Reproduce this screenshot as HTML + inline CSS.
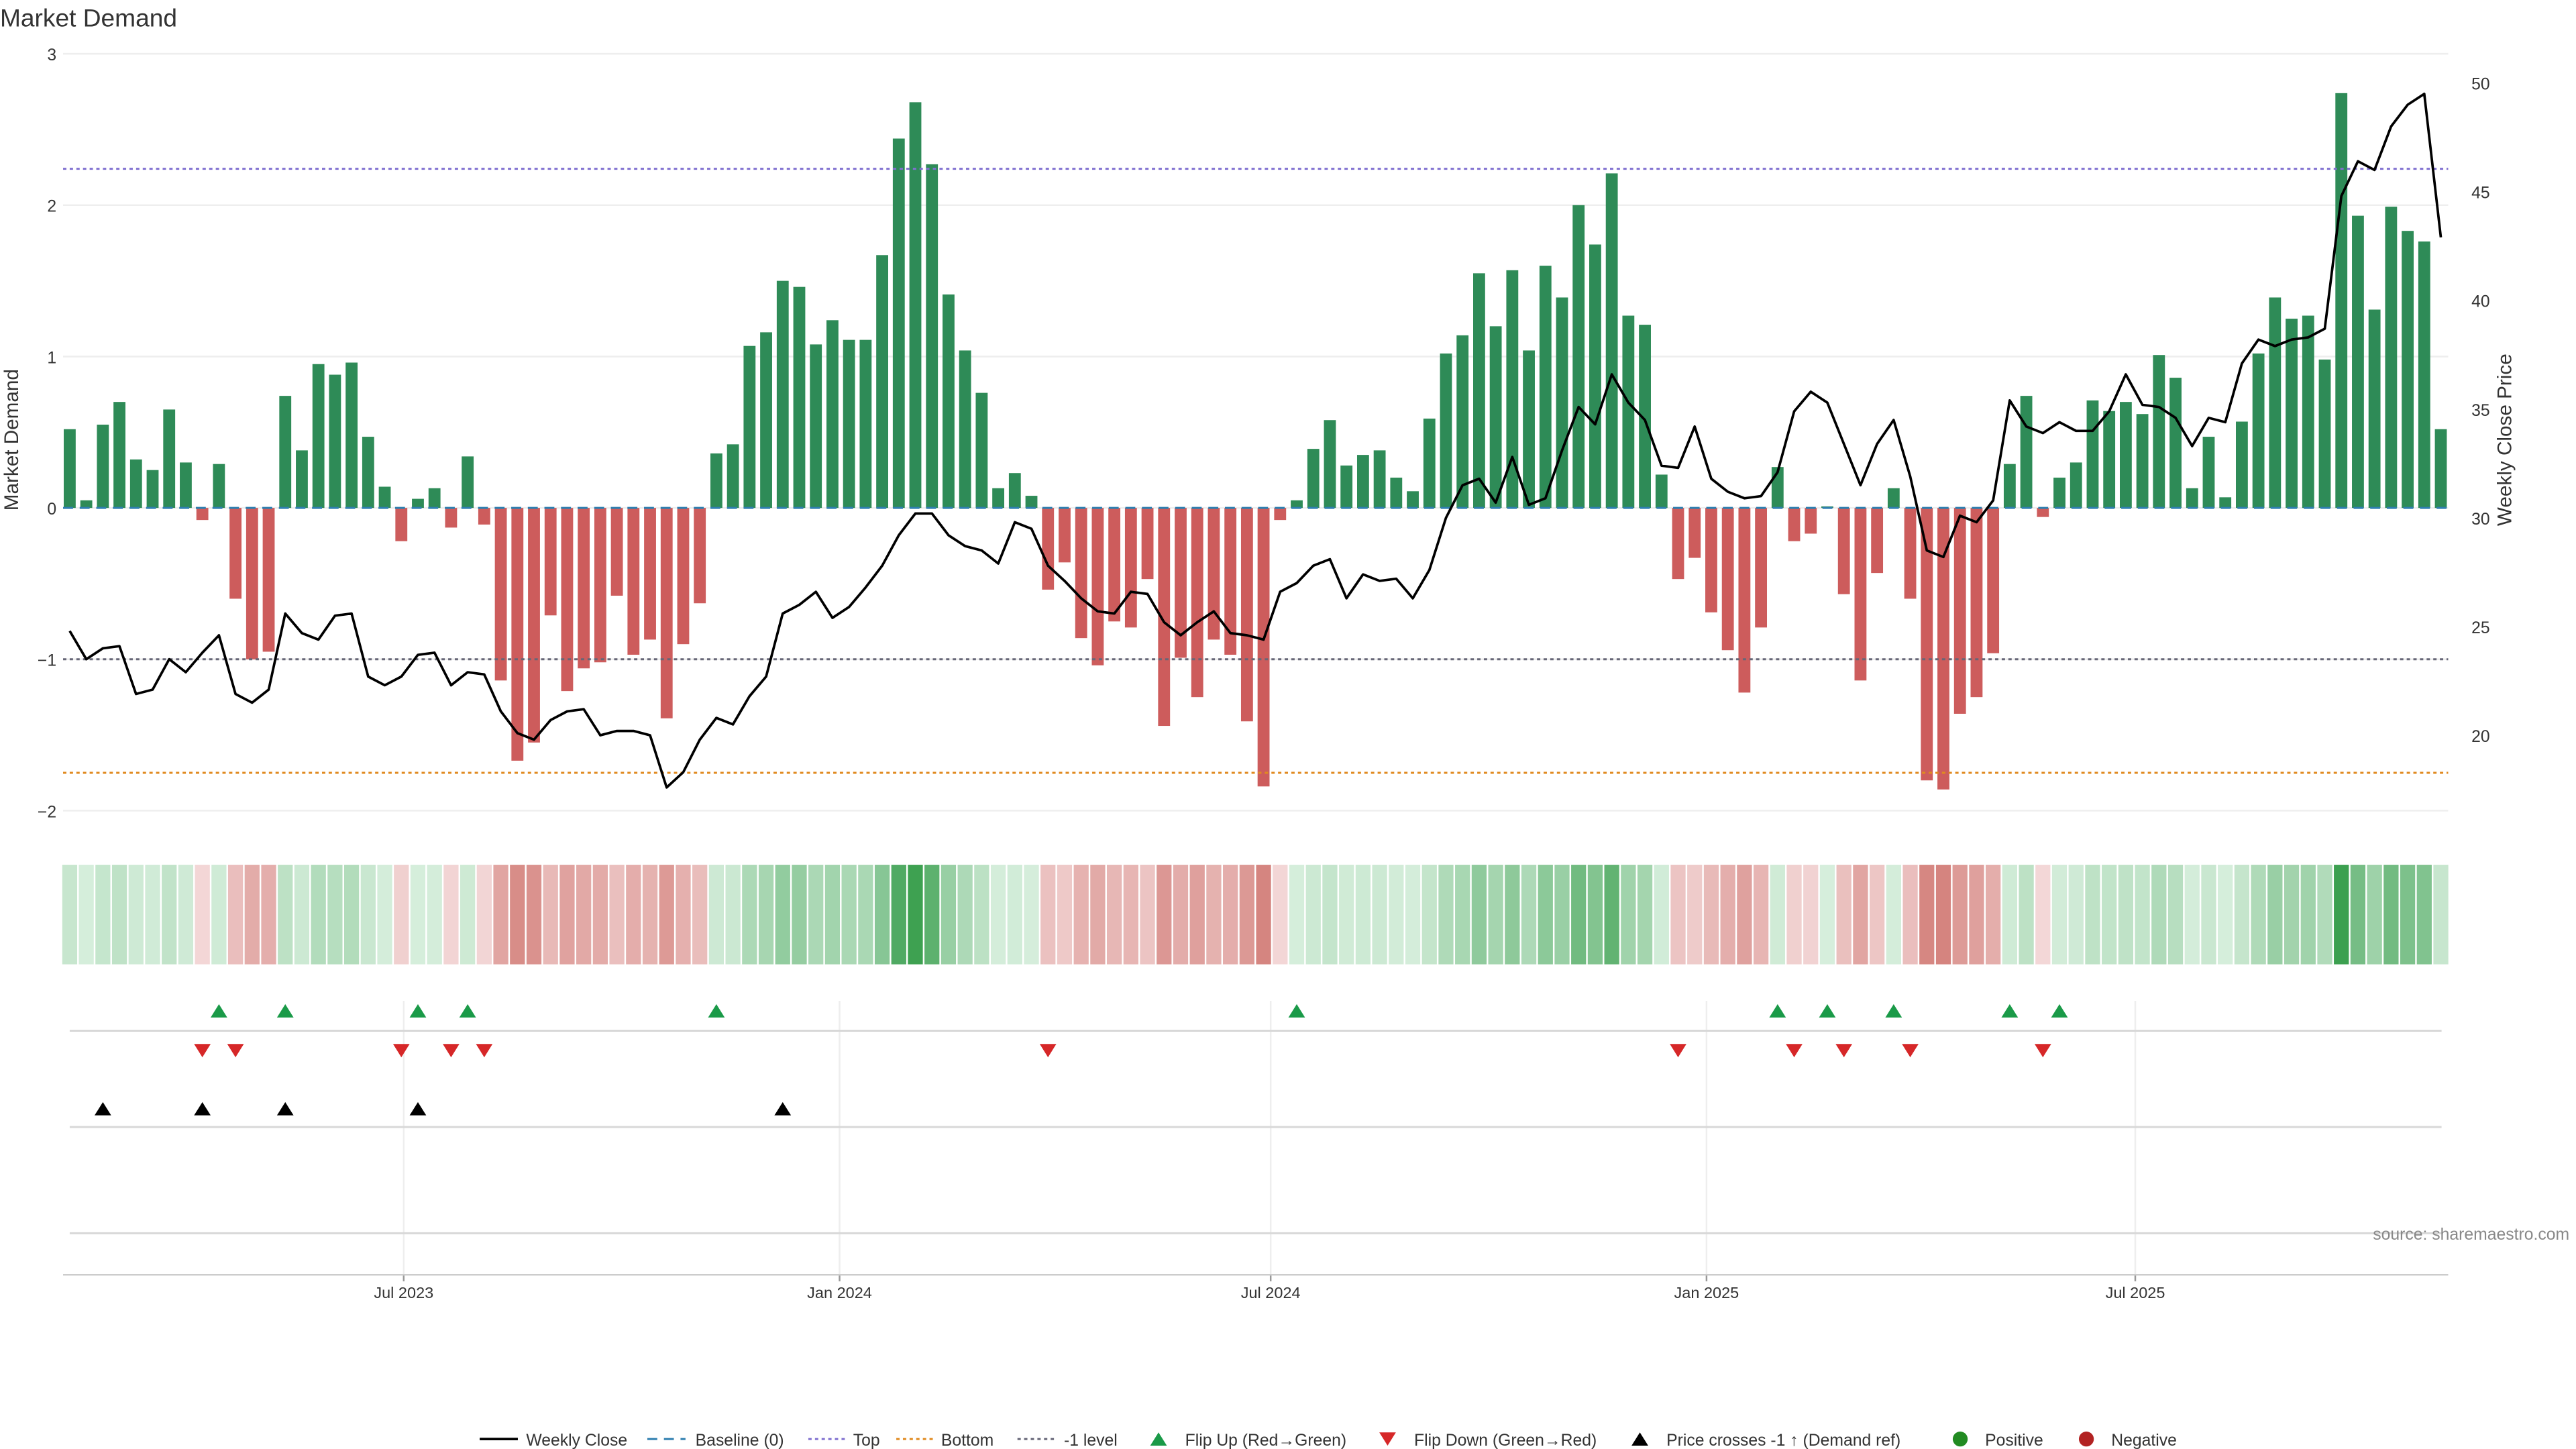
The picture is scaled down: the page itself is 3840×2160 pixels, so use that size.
<!DOCTYPE html>
<html><head><meta charset="utf-8"><style>
html,body{margin:0;padding:0;background:#fff;}
svg{display:block;font-family:"Liberation Sans","DejaVu Sans",sans-serif;}
</style></head><body>
<svg id="chart" width="3840" height="2160" viewBox="0 0 1552 873" xmlns="http://www.w3.org/2000/svg">
<text x="0" y="16" font-size="15" fill="#333">Market Demand</text>
<g id="g"></g>
</svg>
<script>
const demand = [0.52,0.05,0.55,0.70,0.32,0.25,0.65,0.30,-0.08,0.29,-0.60,-1.0,-0.95,0.74,0.38,0.95,0.88,0.96,0.47,0.14,
-0.22,0.06,0.13,-0.13,0.34,-0.11,-1.14,-1.67,-1.55,-0.71,-1.21,-1.06,-1.02,-0.58,-0.97,-0.87,-1.39,-0.90,-0.63,0.36,
0.42,1.07,1.16,1.50,1.46,1.08,1.24,1.11,1.11,1.67,2.44,2.68,2.27,1.41,1.04,0.76,0.13,0.23,0.08,-0.54,
-0.36,-0.86,-1.04,-0.75,-0.79,-0.47,-1.44,-0.99,-1.25,-0.87,-0.97,-1.41,-1.84,-0.08,0.05,0.39,0.58,0.28,0.35,0.38,
0.20,0.11,0.59,1.02,1.14,1.55,1.20,1.57,1.04,1.60,1.39,2.00,1.74,2.21,1.27,1.21,0.22,-0.47,-0.33,-0.69,
-0.94,-1.22,-0.79,0.27,-0.22,-0.17,0.01,-0.57,-1.14,-0.43,0.13,-0.60,-1.80,-1.86,-1.36,-1.25,-0.96,0.29,0.74,-0.06,
0.20,0.30,0.71,0.64,0.70,0.62,1.01,0.86,0.13,0.47,0.07,0.57,1.02,1.39,1.25,1.27,0.98,2.74,1.93,1.31,
1.99,1.83,1.76,0.52];
const price = [24.8,23.5,24.0,24.1,21.9,22.1,23.5,22.9,23.8,24.6,21.9,21.5,22.1,25.6,24.7,24.4,25.5,25.6,22.7,22.3,
22.7,23.7,23.8,22.3,22.9,22.8,21.1,20.1,19.8,20.7,21.1,21.2,20.0,20.2,20.2,20.0,17.6,18.3,19.8,20.8,
20.5,21.8,22.7,25.6,26.0,26.6,25.4,25.9,26.8,27.8,29.2,30.2,30.2,29.2,28.7,28.5,27.9,29.8,29.5,27.8,
27.1,26.3,25.7,25.6,26.6,26.5,25.2,24.6,25.2,25.7,24.7,24.6,24.4,26.6,27.0,27.8,28.1,26.3,27.4,27.1,
27.2,26.3,27.6,30.0,31.5,31.8,30.7,32.8,30.6,30.9,33.1,35.1,34.3,36.6,35.3,34.5,32.4,32.3,34.2,31.8,
31.2,30.9,31.0,32.1,34.9,35.8,35.3,33.4,31.5,33.4,34.5,31.9,28.5,28.2,30.1,29.8,30.8,35.4,34.2,33.9,
34.4,34.0,34.0,34.9,36.6,35.2,35.1,34.6,33.3,34.6,34.4,37.1,38.2,37.9,38.2,38.3,38.7,44.8,46.4,46.0,
48.0,49.0,49.5,42.9];
const crossIdx = [2,8,13,21,43];
const leftTicks = [3,2,1,0,-1,-2];
const rightTicks = [20,25,30,35,40,45,50];
const dateTicks = ["2023-07-01","2024-01-01","2024-07-01","2025-01-01","2025-07-01"];
const dateLabels = ["Jul 2023","Jan 2024","Jul 2024","Jan 2025","Jul 2025"];
const refTop = 2.24, refBottom = -1.75, refMinus1 = -1;
const startDate = new Date("2023-02-10").getTime();

const NS="http://www.w3.org/2000/svg";
const g=document.getElementById('g');
function el(tag,attrs,parent){const e=document.createElementNS(NS,tag);for(const k in attrs)e.setAttribute(k,attrs[k]);(parent||g).appendChild(e);return e;}
const xi=i=>42+i*9.99;
const xd=d=>42+(new Date(d).getTime()-startDate)/(7*864e5)*9.99;
const yL=v=>306-v*91.2;
const yR=p=>312-(p-30)*13.1;
const X0=38,X1=1475;

leftTicks.forEach(t=>{
  const l=el('line',{x1:X0,x2:X1,y1:yL(t),y2:yL(t),stroke:'#eeeeee','stroke-width':1});
  
  
  const tx=el('text',{x:34,y:yL(t)+4,'font-size':10,fill:'#333','text-anchor':'end'});
  tx.textContent=t<0?'\u2212'+(-t):String(t);
  
  
});
rightTicks.forEach(t=>{
  const tx=el('text',{x:1489,y:yR(t)+4,'font-size':10,fill:'#333'});
  tx.textContent=String(t);
  
  
});
demand.forEach((v,i)=>{
  const r=el('rect',{x:xi(i)-3.6,width:7.2,y:Math.min(yL(v),yL(0)),height:Math.abs(yL(v)-yL(0)),fill:v>=0?'#2e8b57':'#cd5c5c'});
  
  
});
function hline(v,color,dash,name){
  const l=el('line',{x1:X0,x2:X1,y1:yL(v),y2:yL(v),stroke:color,'stroke-width':1.2,'stroke-dasharray':dash});
  
  
}
hline(0,'#2f7fb0','6 4','baseline-line');
hline(refTop,'#8070d0','2 2','top-line');
hline(refBottom,'#e08a20','2 2','bottom-line');
hline(refMinus1,'#666677','2 2','minus-one-line');
const pl=el('polyline',{points:price.map((p,i)=>xi(i)+','+yR(p)).join(' '),fill:'none',stroke:'#000','stroke-width':1.5,'stroke-linejoin':'round'});


const at=el('text',{x:11,y:265,'font-size':12,fill:'#333','text-anchor':'middle',transform:'rotate(-90 11 265)'});
at.textContent='Market Demand';


const at2=el('text',{x:1513,y:265,'font-size':12,fill:'#333','text-anchor':'middle',transform:'rotate(-90 1513 265)'});
at2.textContent='Weekly Close Price';


function mix(a,b,t){return 'rgb('+a.map((c,k)=>Math.round(c+(b[k]-c)*t)).join(',')+')';}
demand.forEach((v,i)=>{
  let c;
  if(v>=0){c=mix([214,238,220],[60,160,80],Math.min(1,Math.pow(v/2.7,1.4)));}
  else{c=mix([244,218,218],[212,130,125],Math.min(1,-v/1.9));}
  const r=el('rect',{x:xi(i)-4.5,width:9,y:521,height:60,fill:c});
  
  
});
dateTicks.forEach((d,k)=>{
  const x=xd(d);
  const l=el('line',{x1:x,x2:x,y1:603,y2:768,stroke:'#eeeeee','stroke-width':1});
  
  
  const tk=el('line',{x1:x,x2:x,y1:768,y2:772,stroke:'#999','stroke-width':1});
  
  
  const t=el('text',{x:x,y:782,'font-size':9.5,fill:'#333','text-anchor':'middle'});
  t.textContent=dateLabels[k];
  
  
});
[621,679,743].forEach(y=>{
  const l=el('line',{x1:42,x2:1471,y1:y,y2:y,stroke:'#d8d8d8','stroke-width':1.2});
  
  
});
const ax=el('line',{x1:X0,x2:X1,y1:768,y2:768,stroke:'#cccccc','stroke-width':1});


function tri(x,y,up,color,name){
  const p=up?`${x-5},${y+4} ${x+5},${y+4} ${x},${y-4}`:`${x-5},${y-4} ${x+5},${y-4} ${x},${y+4}`;
  const t=el('polygon',{points:p,fill:color});
  
  
}
demand.forEach((v,i)=>{
  if(i===0)return;
  const p=demand[i-1];
  if(p<0&&v>=0)tri(xi(i),609,true,'#1a9a48','flip-up-marker');
  if(p>=0&&v<0)tri(xi(i),633,false,'#d62728','flip-down-marker');
});
crossIdx.forEach(i=>tri(xi(i),668,true,'#000','price-cross-marker'));
const src=el('text',{x:1548,y:747,'font-size':10,fill:'#888','text-anchor':'end'});
src.textContent='source: sharemaestro.com';


const lg=el('g',{});


const LY=867;
function ltext(x,s){const t=el('text',{x:x,y:LY+4,'font-size':10,fill:'#333'},lg);t.textContent=s;}
function lline(x1,color,dash,w){const l=el('line',{x1:x1,x2:x1+23,y1:LY,y2:LY,stroke:color,'stroke-width':w,'stroke-dasharray':dash},lg);}
lline(289,'#000','',1.5);ltext(317,'Weekly Close');
lline(390,'#2f7fb0','6 4',1.2);ltext(419,'Baseline (0)');
lline(487,'#8070d0','2 2',1.2);ltext(514,'Top');
lline(540,'#e08a20','2 2',1.2);ltext(567,'Bottom');
lline(613,'#666677','2 2',1.2);ltext(641,'-1 level');
tri(698,LY,true,'#1a9a48','legend-flip-up');ltext(714,'Flip Up (Red\u2192Green)');
tri(836,LY,false,'#d62728','legend-flip-down');ltext(852,'Flip Down (Green\u2192Red)');
tri(988,LY,true,'#000','legend-price-cross');ltext(1004,'Price crosses -1 \u2191 (Demand ref)');
const c1=el('circle',{cx:1181,cy:LY,r:4.5,fill:'#228b22'},lg);
ltext(1196,'Positive');
const c2=el('circle',{cx:1257,cy:LY,r:4.5,fill:'#b22222'},lg);
ltext(1272,'Negative');
</script>
</body></html>
